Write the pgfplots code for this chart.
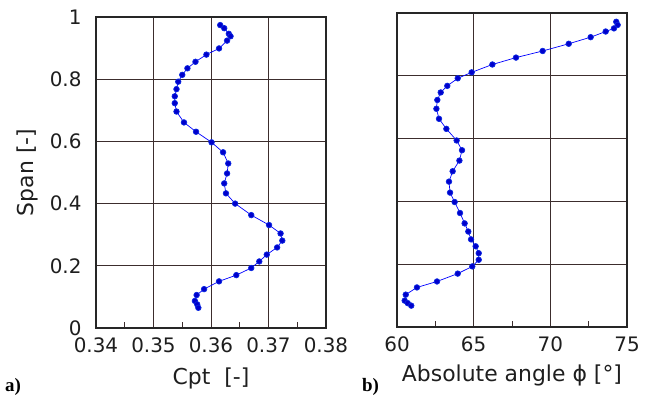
\documentclass[border=0pt]{standalone}
\usepackage{fontspec}
\setmainfont{DejaVu Sans}
\newfontfamily\serifb{Liberation Serif}
\usepackage{pgfplots}
\pgfplotsset{compat=1.18}
\definecolor{lineblue}{RGB}{95,135,255}
\definecolor{markblue}{RGB}{10,40,225}
\definecolor{gridc}{RGB}{60,45,45}
\definecolor{textc}{RGB}{30,30,30}
\pgfplotsset{
  mystyle/.style={
    scale only axis, width=230bp,
    ymin=0, ymax=1, ytick={0,0.2,0.4,0.6,0.8,1},
    grid=major, major grid style={gridc, line width=0.8pt},
    axis line style={black!85, line width=1.7pt},
    xtick pos=bottom, ytick pos=left, tick align=inside,
    major tick length=0pt, minor tick length=6bp,
    minor x tick num=1,
    tick style={gridc, line width=0.8pt},
    /pgf/number format/assume math mode=true,
    tick label style={font=\fontsize{20}{24}\selectfont, text=textc},
    xticklabel style={yshift=-6bp},
    yticklabel style={xshift=-11bp},
    label style={font=\fontsize{22}{26}\selectfont, text=textc},
    every axis plot/.append style={color=lineblue, line width=0.7pt, mark=*, mark size=2.8bp,
      mark options={draw=markblue, fill=markblue}},
  }
}
\begin{document}
\begin{tikzpicture}
\path[use as bounding box] (0,0) rectangle (655bp,400bp);
\begin{axis}[mystyle, at={(96bp,72bp)}, anchor=south west, height=311bp,
  xmin=0.34, xmax=0.38, xtick={0.34,0.35,0.36,0.37,0.38},
  xticklabel style={/pgf/number format/.cd, fixed, precision=2, fixed zerofill},
  scaled x ticks=false,
  yticklabel style={/pgf/number format/.cd, fixed, precision=1},
  xlabel={Cpt\ \ [-]}, ylabel={Span [-]},
  xlabel style={at={(axis description cs:0.5,0)}, anchor=base, yshift=-56.5bp},
  ylabel style={at={(axis description cs:0,0.5)}, anchor=center, yshift=69bp}]
\addplot coordinates {
(0.3616,0.974) (0.3623,0.964) (0.3631,0.946) (0.3634,0.938) (0.3628,0.924)
(0.3614,0.899) (0.3592,0.879) (0.3573,0.856) (0.3559,0.835) (0.3550,0.814)
(0.3543,0.792) (0.3540,0.768) (0.3537,0.745) (0.3537,0.723) (0.3540,0.696)
(0.3553,0.661) (0.3574,0.631) (0.3601,0.597) (0.3621,0.565) (0.3630,0.529)
(0.3628,0.497) (0.3623,0.465) (0.3626,0.433) (0.3642,0.400) (0.3670,0.363)
(0.3701,0.331) (0.3721,0.304) (0.3724,0.281) (0.3715,0.259) (0.3697,0.236)
(0.3684,0.214) (0.3670,0.193) (0.3644,0.170) (0.3614,0.150) (0.3588,0.125)
(0.3575,0.106) (0.3572,0.087) (0.3576,0.076) (0.3578,0.065)
};
\end{axis}
\begin{axis}[mystyle, at={(397bp,73bp)}, anchor=south west, height=314bp,
  xmin=60, xmax=75, xtick={60,65,70,75}, yticklabels={},
  xlabel={Absolute angle ϕ [°]},
  xlabel style={at={(axis description cs:0.5,0)}, anchor=base, yshift=-54bp}]
\addplot coordinates {
(74.30,0.972) (74.39,0.962) (74.15,0.951) (73.61,0.941) (72.63,0.923)
(71.20,0.902) (69.50,0.879) (67.76,0.858) (66.22,0.836) (64.87,0.811)
(63.96,0.792) (63.28,0.768) (62.85,0.747) (62.63,0.723) (62.57,0.695)
(62.74,0.663) (63.22,0.631) (63.89,0.594) (64.24,0.563) (64.07,0.530)
(63.63,0.496) (63.39,0.463) (63.46,0.428) (63.76,0.398) (64.11,0.363)
(64.41,0.330) (64.65,0.304) (64.83,0.279) (65.13,0.257) (65.33,0.235)
(65.33,0.214) (64.91,0.193) (63.96,0.170) (62.61,0.145) (61.30,0.126)
(60.57,0.103) (60.50,0.084) (60.70,0.076) (60.93,0.068)
};
\end{axis}
\node[anchor=base west, font=\serifb\bfseries\fontsize{19}{22}\selectfont, inner sep=0pt] at (5bp,9bp) {a)};
\node[anchor=base west, font=\serifb\bfseries\fontsize{19}{22}\selectfont, inner sep=0pt] at (362bp,9bp) {b)};
\end{tikzpicture}
\end{document}
